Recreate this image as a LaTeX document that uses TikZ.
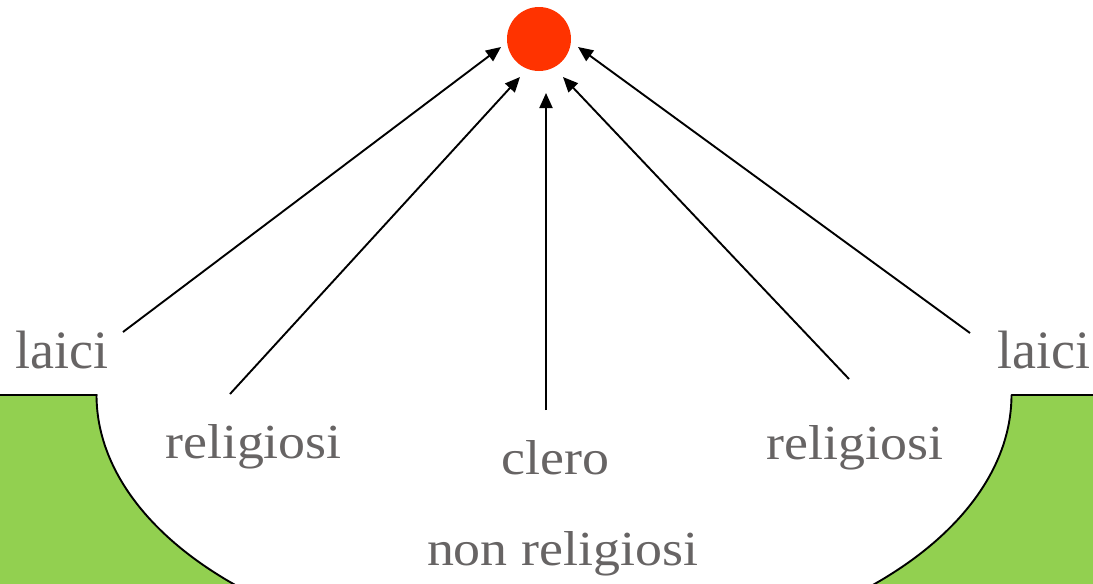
\documentclass[tikz,border=0pt]{standalone}
\usepackage{fontspec}
\setmainfont{Liberation Serif}
\usetikzlibrary{arrows.meta}
\definecolor{grass}{HTML}{92D050}
\definecolor{signal}{HTML}{FF3300}
\definecolor{ink}{RGB}{103,100,100}
\tikzset{
  label/.style={inner sep=0pt, anchor=base, text=ink},
  big/.style={label, font=\fontsize{54}{60}\selectfont},
  small/.style={label, font=\fontsize{49}{56}\selectfont, xscale=1.1, transform shape},
  link/.style={line width=1.9pt, -{Triangle[length=15pt,width=13pt]}},
  rim/.style={line width=1.9pt, line join=round}
}
\begin{document}
\begin{tikzpicture}[x=1pt, y=-1pt]
  \useasboundingbox (0,0) rectangle (1093,584);
  \clip (0,0) rectangle (1093,584);

  % green ground with the bowl cut out of it
  \fill[grass] (0,395) -- (97,395)
    -- plot[domain=180:130, samples=60, smooth] ({554+457.5*cos(\x)}, {395+264.9*sin(\x)})
    -- (0,610) -- cycle;
  \fill[grass] (1093,395) -- (1011.5,395)
    -- plot[domain=0:50, samples=60, smooth] ({554+457.5*cos(\x)}, {395+264.9*sin(\x)})
    -- (1093,610) -- cycle;
  \draw[rim] (0,395) -- (97,395)
    -- plot[domain=180:130, samples=60, smooth] ({554+457.5*cos(\x)}, {395+264.9*sin(\x)});
  \draw[rim] (1093,395) -- (1011.5,395)
    -- plot[domain=0:50, samples=60, smooth] ({554+457.5*cos(\x)}, {395+264.9*sin(\x)});

  % goal
  \node[circle, fill=signal, minimum size=64pt, inner sep=0pt] (dot) at (539,39) {};

  % groups
  \node[big]   (laiciL) at (62,368)    {laici};
  \node[big]   (laiciR) at (1044,368)  {laici};
  \node[small] (relL)   at (253.5,458) {religiosi};
  \node[small] (relR)   at (855,459)   {religiosi};
  \node[small] (clero)  at (555.5,474) {clero};
  \node[small] (nonrel) at (562.5,565) {non religiosi};

  % arrow ends
  \coordinate (sL1) at (123,332);  \coordinate (tL1) at (501,47);
  \coordinate (sL2) at (230,394);  \coordinate (tL2) at (520,77);
  \coordinate (sC)  at (546,410);  \coordinate (tC)  at (546,93);
  \coordinate (sR2) at (849,379);  \coordinate (tR2) at (563,77);
  \coordinate (sR1) at (970,333);  \coordinate (tR1) at (578,47);

  \draw[link] (sL1) -- (tL1);
  \draw[link] (sL2) -- (tL2);
  \draw[link] (sC)  -- (tC);
  \draw[link] (sR2) -- (tR2);
  \draw[link] (sR1) -- (tR1);
\end{tikzpicture}
\end{document}
